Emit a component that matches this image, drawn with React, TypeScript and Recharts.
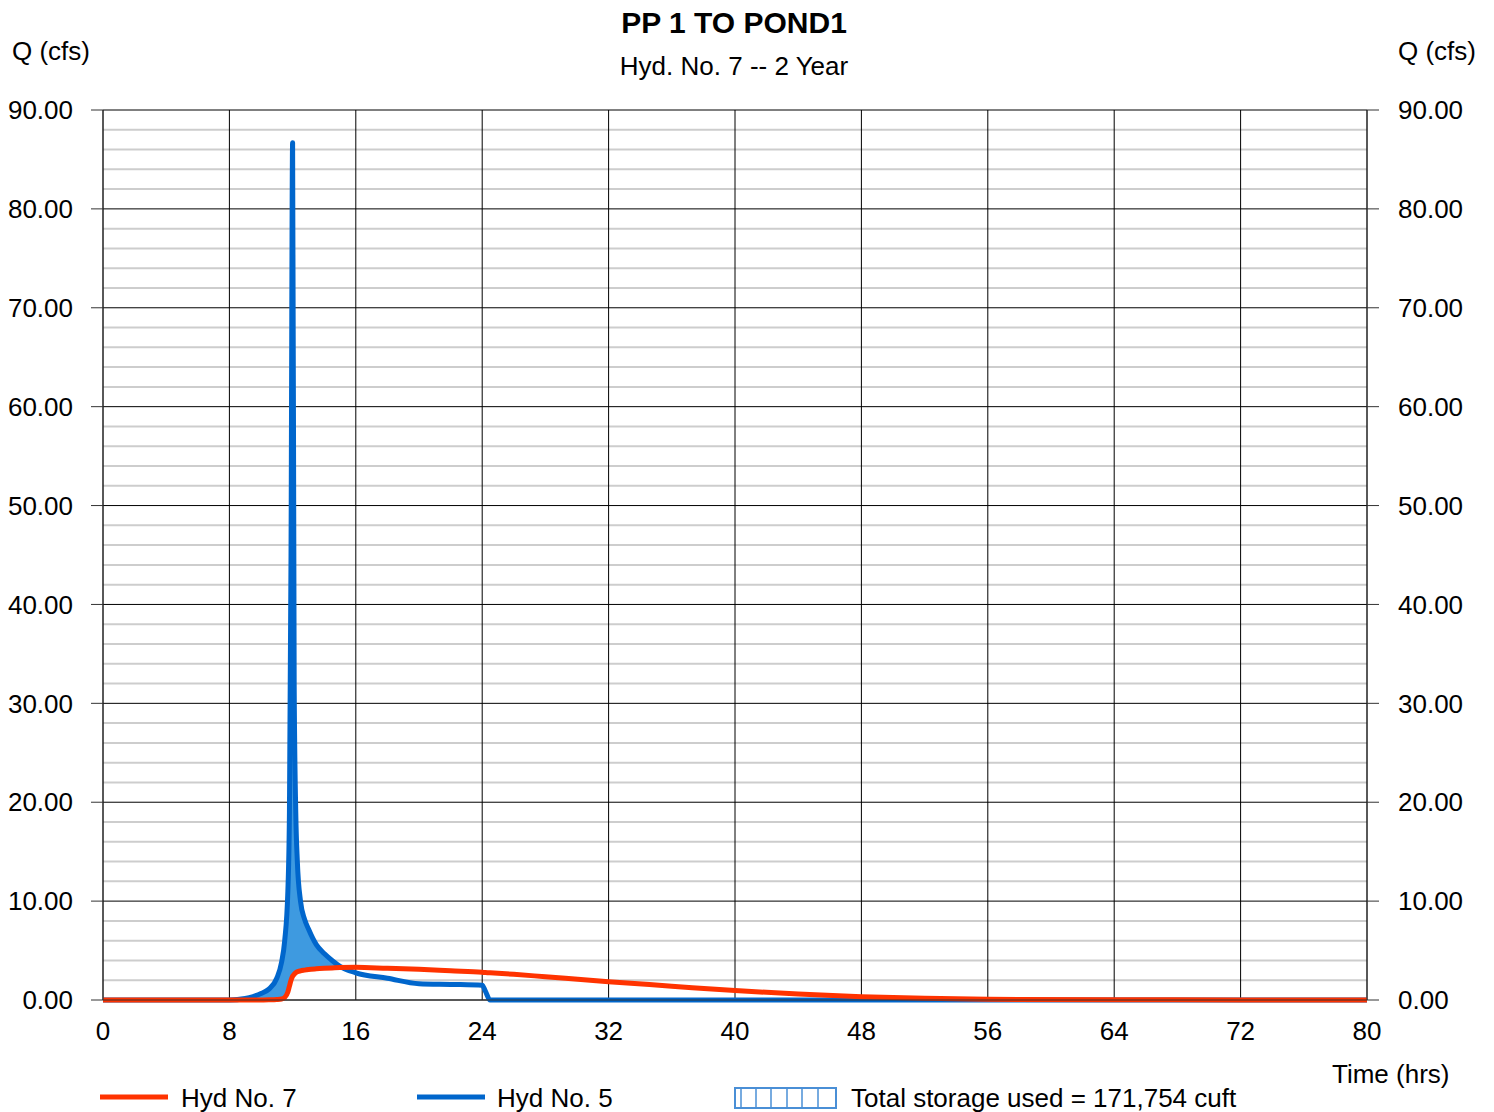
import React from 'react';
import { ComposedChart, Line, Area, XAxis, YAxis, CartesianGrid } from 'recharts';

// time in hours
const hours = [
  0, 8, 9, 9.5, 10, 10.5, 11, 11.3, 11.5, 11.7, 11.8, 11.9, 12, 12.1, 12.2, 12.3, 12.5, 12.75, 13, 13.5,
  14, 14.5, 15, 16, 18, 20, 22, 24, 24.2, 24.5, 26, 28, 32, 36, 40, 44, 48, 52, 56, 64, 72, 80,
];

// Hyd No. 5 (inflow), cfs
const hyd5 = [
  0, 0, 0.15, 0.35, 0.65, 1.1, 2.2, 3.8, 6, 11, 19, 45, 86.7, 32, 19, 14, 10, 8.2, 7.2, 5.6,
  4.7, 4.0, 3.4, 2.75, 2.2, 1.65, 1.58, 1.5, 0.9, 0, 0, 0, 0, 0, 0, 0, 0, 0, 0, 0, 0, 0,
];

// Hyd No. 7 (outflow), cfs
const hyd7 = [
  0, 0, 0, 0, 0.01, 0.02, 0.05, 0.1, 0.25, 0.8, 1.4, 2.0, 2.4, 2.6, 2.75, 2.85, 2.95, 3.02, 3.08, 3.15,
  3.2, 3.24, 3.28, 3.3, 3.2, 3.1, 2.95, 2.8, 2.78, 2.75, 2.6, 2.35, 1.85, 1.4, 0.95, 0.6, 0.34, 0.17, 0.07, 0.02, 0.01, 0,
];

const xTicks = [0, 8, 16, 24, 32, 40, 48, 56, 64, 72, 80];
const yTicks = [0, 10, 20, 30, 40, 50, 60, 70, 80, 90];
const minorLines = [
  2, 4, 6, 8, 12, 14, 16, 18, 22, 24, 26, 28, 32, 34, 36, 38, 42, 44, 46, 48,
  52, 54, 56, 58, 62, 64, 66, 68, 72, 74, 76, 78, 82, 84, 86, 88,
];

const data = hours.map((t, i) => ({
  t,
  inflow: hyd5[i],
  outflow: hyd7[i],
  band: hyd5[i] > hyd7[i] ? [hyd7[i], hyd5[i]] : [hyd7[i], hyd7[i]],
}));

const FONT = '"Liberation Sans", Arial, sans-serif';
const RED = '#ff3300';
const BLUE = '#0066cc';

const tickStyle = { fontSize: 26, fill: '#000', fontFamily: FONT };

const App: React.FC = () => {
  return (
    <div style={{ position: 'absolute', left: 0, top: 0, width: 1494, height: 1112, background: '#fff' }}>
      <ComposedChart
        width={1494}
        height={1112}
        data={data}
        margin={{ top: 110, right: 17, bottom: 72, left: 13 }}
      >
        <CartesianGrid vertical={false} horizontalValues={minorLines} stroke="#cdcdcd" strokeWidth={2} />
        <CartesianGrid stroke="#000" strokeWidth={1} />
        <XAxis
          dataKey="t"
          type="number"
          domain={[0, 80]}
          ticks={xTicks}
          interval={0}
          tickLine={false}
          tickSize={8}
          tickMargin={14}
          height={40}
          axisLine={{ stroke: '#333' }}
          tick={tickStyle}
        />
        <YAxis
          domain={[0, 90]}
          ticks={yTicks}
          interval={0}
          width={90}
          tickSize={12}
          tickMargin={18}
          tickFormatter={(v: number) => v.toFixed(2)}
          axisLine={{ stroke: '#333' }}
          tickLine={{ stroke: '#333' }}
          tick={tickStyle}
        />
        <YAxis
          yAxisId="right"
          orientation="right"
          domain={[0, 90]}
          ticks={yTicks}
          interval={0}
          width={110}
          tickSize={12}
          tickMargin={19}
          tickFormatter={(v: number) => v.toFixed(2)}
          axisLine={{ stroke: '#333' }}
          tickLine={{ stroke: '#333' }}
          tick={tickStyle}
        />
        <Area
          dataKey="band"
          type="monotoneX"
          fill="#3e9ae0"
          fillOpacity={1}
          stroke="none"
          isAnimationActive={false}
          dot={false}
          activeDot={false}
        />
        <Line
          dataKey="inflow"
          type="monotoneX"
          stroke={BLUE}
          strokeWidth={5}
          strokeLinejoin="round"
          dot={false}
          activeDot={false}
          isAnimationActive={false}
        />
        <Line
          yAxisId="right"
          dataKey="outflow"
          type="monotoneX"
          stroke={RED}
          strokeWidth={5}
          strokeLinejoin="round"
          dot={false}
          activeDot={false}
          isAnimationActive={false}
        />
      </ComposedChart>

      <svg
        width={1494}
        height={1112}
        style={{ position: 'absolute', left: 0, top: 0, pointerEvents: 'none' }}
        fontFamily={FONT}
      >
        <text x={734} y={33} textAnchor="middle" fontSize={30} fontWeight="bold">PP 1 TO POND1</text>
        <text x={734} y={75} textAnchor="middle" fontSize={26}>Hyd. No. 7 -- 2 Year</text>
        <text x={12} y={60} fontSize={26}>Q (cfs)</text>
        <text x={1398} y={60} fontSize={26}>Q (cfs)</text>
        <text x={1332} y={1083} fontSize={26}>Time (hrs)</text>

        <line x1={100} x2={168} y1={1097} y2={1097} stroke={RED} strokeWidth={5} />
        <text x={181} y={1107} fontSize={26}>Hyd No. 7</text>
        <line x1={417} x2={485} y1={1097} y2={1097} stroke={BLUE} strokeWidth={5} />
        <text x={497} y={1107} fontSize={26}>Hyd No. 5</text>

        <rect x={735} y={1088} width={101} height={20} fill="none" stroke="#4a8fd6" strokeWidth={2} />
        {[741, 756, 771, 787, 802, 818].map((x) => (
          <line key={x} x1={x} x2={x} y1={1088} y2={1108} stroke="#4a8fd6" strokeWidth={1.5} />
        ))}
        <text x={851} y={1107} fontSize={26}>Total storage used = 171,754 cuft</text>
      </svg>
    </div>
  );
};

export default App;
